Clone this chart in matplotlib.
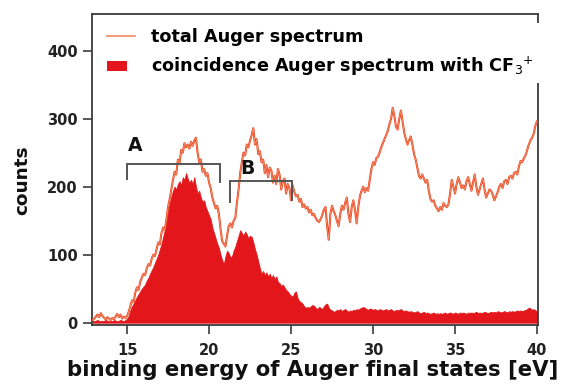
import numpy as np
import matplotlib
matplotlib.use("Agg")
import matplotlib.pyplot as plt
from matplotlib.lines import Line2D
from matplotlib.patches import Rectangle
from matplotlib.legend_handler import HandlerPatch

# binding energy grid: 12.9 .. 40.0 eV in 0.1 eV steps
e_start, e_step = 12.9, 0.1

total_counts = [
    4, 6, 9, 12, 8, 14, 10, 7, 5, 8,
    6, 4, 7, 5, 9, 13, 8, 12, 6, 9,
    7, 10,
    16, 24, 33, 30, 44, 52, 48, 60, 66, 72,
    70, 80, 86, 84, 94, 100, 98, 108, 118, 115,
    132, 140, 136, 152, 170, 182, 196, 210, 222, 218,
    240, 234, 254, 250, 264, 258, 262, 256, 266, 260,
    268, 272, 250, 236, 240, 222, 226, 216, 220, 206,
    198, 184, 176, 168, 172, 160, 138, 120, 116, 112,
    128, 142, 146, 140, 150, 154, 176, 196, 220, 236,
    250, 246, 262, 258, 268, 276, 286, 262, 270, 248,
    252, 236, 240, 220, 232, 214, 228, 224, 206, 216,
    204, 226, 218, 196, 208, 212, 190, 204, 198, 180,
    202, 192, 186, 188, 178, 182, 170, 174, 168, 170,
    162, 166, 158, 160, 154, 150, 148, 152, 158, 166,
    170, 142, 122, 160, 172, 164, 158, 150, 142, 160,
    172, 166, 176, 184, 160, 148, 170, 180, 166, 146,
    170, 186, 194, 200, 192, 198, 194, 210, 226, 236,
    232, 242, 244, 250, 258, 264, 270, 276, 282, 292,
    300, 316, 304, 288, 284, 300, 312, 296, 280, 270,
    262, 268, 274, 262, 248, 240, 228, 216, 212, 218,
    212, 206, 210, 194, 182, 178, 180, 172, 168, 164,
    170, 166, 176, 172, 170, 174, 190, 210, 200, 190,
    204, 214, 206, 198, 202, 196, 208, 214, 204, 194,
    206, 218, 200, 188, 196, 204, 212, 196, 184, 190,
    196, 194, 188, 180, 186, 192, 200, 204, 198, 208,
    210, 204, 214, 216, 212, 220, 222, 218, 230, 238,
    236, 242, 246, 254, 262, 268, 272, 278, 290, 296,
]

coincidence_counts = [
    3, 2, 3, 4, 2, 3, 2, 3, 4, 3,
    2, 3, 2, 4, 3, 2, 3, 4, 3, 2,
    4, 6,
    10, 18, 24, 28, 33, 38, 42, 46, 50, 53,
    56, 62, 66, 72, 77, 82, 88, 94, 100, 108,
    116, 126, 136, 150, 164, 176, 186, 194, 200, 196,
    204, 208, 202, 214, 210, 220, 212, 206, 210, 204,
    214, 200, 190, 194, 184, 178, 180, 170, 164, 158,
    152, 140, 132, 124, 116, 110, 100, 92, 86, 98,
    106, 102, 96, 98, 106, 112, 120, 128, 136, 132,
    128, 134, 130, 124, 128, 126, 118, 108, 100, 90,
    80, 72, 76, 70, 74, 68, 72, 66, 70, 64,
    68, 60, 58, 54, 56, 52, 48, 46, 42, 40,
    38, 44, 46, 36, 32, 30, 28, 24, 22, 23,
    22, 24, 26, 25, 22, 20, 23, 22, 20, 24,
    27, 28, 22, 19, 18, 16, 17, 19, 18, 20,
    17, 19, 20, 18, 16, 18, 17, 19, 18, 20,
    19, 21, 22, 23, 22, 20, 19, 21, 20, 19,
    20, 19, 18, 20, 19, 18, 19, 20, 18, 19,
    20, 18, 17, 19, 18, 19, 20, 18, 17, 18,
    17, 16, 17, 16, 15, 16, 17, 15, 14, 15,
    16, 14, 15, 14, 13, 14, 15, 13, 14, 13,
    14, 13, 14, 15, 13, 14, 15, 14, 13, 15,
    14, 13, 15, 14, 15, 14, 13, 15, 14, 15,
    14, 15, 16, 14, 15, 14, 15, 16, 15, 14,
    15, 16, 15, 16, 15, 17, 16, 15, 16, 17,
    16, 15, 17, 16, 17, 16, 17, 18, 17, 18,
    17, 18, 19, 20, 22, 21, 19, 20, 18, 17,
]

energy = np.round(e_start + e_step * np.arange(len(total_counts)), 2)

# final-state groups marked with brackets: (label, start eV, end eV, bar level, left foot, right foot)
groups = [
    ("A", 15.0, 20.67, 234, 212, 207),
    ("B", 21.28, 25.08, 208, 178, 180),
]
group_label_pos = {"A": (15.5, 261), "B": (22.35, 227)}

x_ticks = [15, 20, 25, 30, 35, 40]
y_ticks = [0, 100, 200, 300, 400]

line_color = "#e9461f"
fill_color = "#e3171b"
axis_color = "#3c3c3c"
font = "DejaVu Sans"

plt.rcParams["font.family"] = [font]

W, H = 562, 385
fig = plt.figure(figsize=(W / 100, H / 100), dpi=100)
ax = fig.add_axes([92.3 / W, 1 - 325 / H, 445.7 / W, 311 / H])

ax.fill_between(energy, coincidence_counts, 0,
                color=fill_color, lw=0.6, edgecolor=fill_color, zorder=2)
ax.plot(energy, total_counts, color=line_color, lw=1.5, zorder=3)
ax.plot(energy, total_counts, color="#f8a07c", lw=0.45, zorder=3.1)

for name, x0, x1, level, foot0, foot1 in groups:
    ax.plot([x0, x0, x1, x1], [foot0, level, level, foot1],
            color="#555555", lw=1.4, zorder=4, solid_joinstyle="miter")
    lx, ly = group_label_pos[name]
    ax.text(lx, ly, name, ha="center", va="center", fontsize=13.5,
            fontweight="bold", color="#111111", zorder=4)

ax.set_xlim(12.88, 40.06)
ax.set_ylim(-3.4, 454)
ax.set_xticks(x_ticks)
ax.set_yticks(y_ticks)
ax.tick_params(direction="out", length=6.5, width=1.2, color=axis_color,
               labelsize=10.5, labelcolor="#222222", pad=4)
ax.tick_params(axis="x", pad=6.5)
for lab in ax.get_xticklabels() + ax.get_yticklabels():
    lab.set_fontweight("bold")
for sp in ax.spines.values():
    sp.set_color(axis_color)
    sp.set_linewidth(1.3)


class SmallBoxHandler(HandlerPatch):
    def create_artists(self, legend, orig_handle, xdescent, ydescent,
                       width, height, fontsize, trans):
        w = width * 0.72
        h = height * 0.8
        r = Rectangle((-xdescent, -ydescent + (height - h) / 2), w, h,
                      facecolor=fill_color, edgecolor="none", transform=trans)
        return [r]


handles = [
    Line2D([], [], color="#f08a64", lw=1.2),
    Rectangle((0, 0), 1, 1, facecolor=fill_color),
]
labels = ["total Auger spectrum",
          r"coincidence Auger spectrum with CF$_3$$^{+}$"]
leg = ax.legend(handles, labels, loc="upper left",
                bbox_to_anchor=(0.022, 0.972), frameon=True, fancybox=False,
                facecolor="white", edgecolor="none", framealpha=1,
                handlelength=1.55, handletextpad=0.95,
                labelspacing=0.5, borderpad=0.3, borderaxespad=0.0,
                handler_map={Rectangle: SmallBoxHandler()},
                prop={"weight": "bold", "size": 12.7})
leg.set_zorder(10)

fig.text(22 / W, 1 - 180 / H, "counts", rotation=90, ha="center",
         va="center", fontsize=13.3, fontweight="bold", color="#111111")
fig.text(67 / W, 1 - 376 / H, "binding energy of Auger final states [eV]",
         ha="left", va="baseline", fontsize=15.3, fontweight="bold",
         color="#111111")

fig.savefig("out.png", dpi=100)
